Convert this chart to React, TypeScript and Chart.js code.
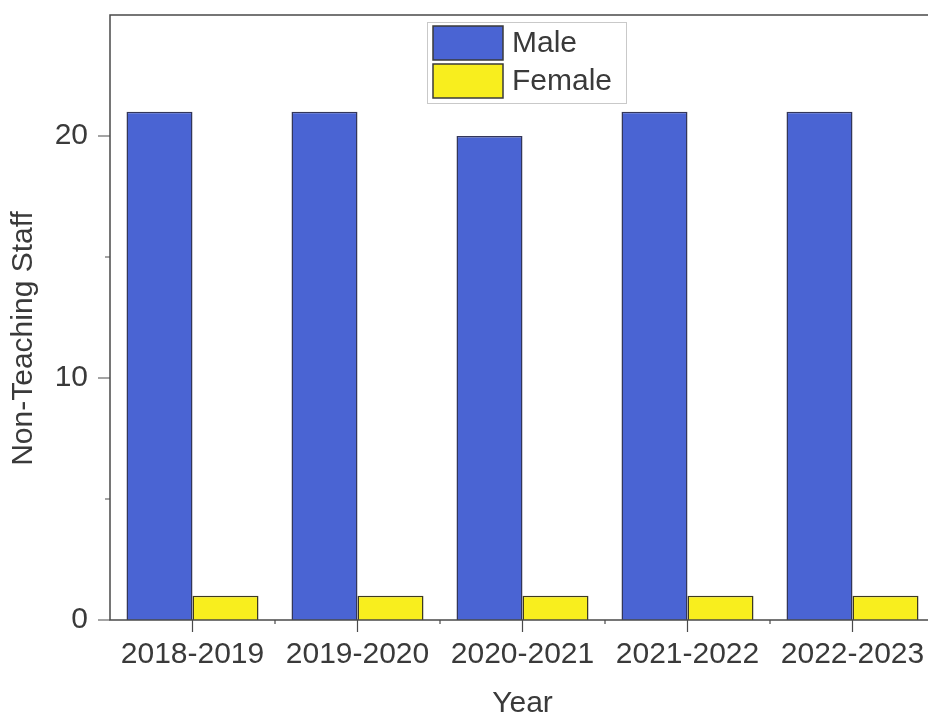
import React, { useEffect, useRef } from "react";
import { Chart, registerables } from "chart.js";

Chart.register(...registerables);

const categories = ["2018-2019", "2019-2020", "2020-2021", "2021-2022", "2022-2023"];
const maleValues = [21, 21, 20, 21, 21];
const femaleValues = [1, 1, 1, 1, 1];
const majorYTicks = [0, 10, 20];
const minorYTicks = [5, 15];
const seriesLabels = ["Male", "Female"];
const yTitle = "Non-Teaching Staff";
const xTitle = "Year";

const FONT = "'Liberation Sans', Arial, Helvetica, sans-serif";
const TEXT = "#3a3a3a";
const AXIS = "#4a4a4a";
const BLUE = "#4A64D3";
const YELLOW = "#F8EE1E";

const framePlugin = {
  id: "frame",
  afterDraw(chart: any) {
    const { ctx, chartArea } = chart;
    const { left, right, top, bottom } = chartArea;
    const y = chart.scales.y;
    const x = chart.scales.x;
    ctx.save();
    ctx.strokeStyle = AXIS;
    ctx.lineWidth = 1.5;
    ctx.beginPath();
    ctx.moveTo(right, top);
    ctx.lineTo(left, top);
    ctx.lineTo(left, bottom);
    ctx.lineTo(right, bottom);
    ctx.stroke();
    // y ticks
    ctx.lineWidth = 1.2;
    ctx.beginPath();
    majorYTicks.forEach((v) => {
      const p = y.getPixelForValue(v);
      ctx.moveTo(left - 12, p);
      ctx.lineTo(left, p);
    });
    minorYTicks.forEach((v) => {
      const p = y.getPixelForValue(v);
      ctx.moveTo(left - 5, p);
      ctx.lineTo(left, p);
    });
    // x ticks
    categories.forEach((_, i) => {
      const p = x.getPixelForValue(i);
      ctx.moveTo(p, bottom);
      ctx.lineTo(p, bottom + 12);
      const m = x.getPixelForValue(i + 0.5);
      ctx.moveTo(m, bottom);
      ctx.lineTo(m, bottom + 4);
    });
    ctx.stroke();

    // y title
    ctx.fillStyle = TEXT;
    ctx.font = `30px ${FONT}`;
    ctx.textAlign = "center";
    ctx.textBaseline = "middle";
    ctx.translate(left - 86, (top + bottom) / 2 + 21);
    ctx.rotate(-Math.PI / 2);
    ctx.fillText(yTitle, 0, 0);
    ctx.restore();

    // legend
    ctx.save();
    const lx = left + 317;
    const ly = top + 7;
    ctx.strokeStyle = "#c9c9c9";
    ctx.lineWidth = 1;
    ctx.strokeRect(lx + 0.5, ly + 0.5, 199, 81);
    chart.data.datasets.forEach((ds: any, i: number) => {
      const sy = ly + 4 + i * 38;
      ctx.fillStyle = ds.backgroundColor;
      ctx.fillRect(lx + 6, sy, 70, 34);
      ctx.strokeStyle = "#3a3a3a";
      ctx.lineWidth = 1.5;
      ctx.strokeRect(lx + 6, sy, 70, 34);
      ctx.fillStyle = TEXT;
      ctx.font = `30px ${FONT}`;
      ctx.textAlign = "left";
      ctx.textBaseline = "middle";
      ctx.fillText(ds.label, lx + 85, sy + 18);
    });
    ctx.restore();
  },
};

export default function App() {
  const ref = useRef<HTMLCanvasElement>(null);
  useEffect(() => {
    if (!ref.current) return;
    const chart = new Chart(ref.current, {
      type: "bar",
      data: {
        labels: categories,
        datasets: [
          {
            label: seriesLabels[0],
            data: maleValues,
            backgroundColor: BLUE,
            borderColor: "#33365a",
            borderWidth: 1.5,
            categoryPercentage: 0.8,
            barPercentage: 1.0,
          },
          {
            label: seriesLabels[1],
            data: femaleValues,
            backgroundColor: YELLOW,
            borderColor: "#3d3a20",
            borderWidth: 1.5,
            categoryPercentage: 0.8,
            barPercentage: 1.0,
          },
        ],
      },
      options: {
        animation: false,
        responsive: false,
        devicePixelRatio: 1,
        layout: { padding: { left: 0, right: 25, top: 15, bottom: 0 } },
        plugins: { legend: { display: false }, tooltip: { enabled: false } },
        scales: {
          x: {
            type: "category",
            offset: true,
            grid: { display: false, drawTicks: false },
            border: { display: false },
            ticks: {
              color: TEXT,
              font: { family: FONT, size: 30 },
              padding: 17,
              maxRotation: 0,
              autoSkip: false,
            },
            title: {
              display: true,
              text: xTitle,
              color: TEXT,
              font: { family: FONT, size: 30, lineHeight: 1 },
              padding: { top: 0, bottom: 0 },
            },
            afterFit: (s: any) => {
              s.height = 99;
              s.paddingLeft = 0;
              s.paddingRight = 0;
              s.paddingTop = 0;
              s.paddingBottom = 0;
            },
          },
          y: {
            min: 0,
            max: 25,
            grid: { display: false, drawTicks: false },
            border: { display: false },
            ticks: {
              color: TEXT,
              font: { family: FONT, size: 30 },
              padding: 22,
            },
            afterBuildTicks: (s: any) => {
              s.ticks = majorYTicks.map((v) => ({ value: v }));
            },
            afterFit: (s: any) => {
              s.width = 110;
              s.paddingLeft = 0;
              s.paddingRight = 0;
              s.paddingTop = 0;
              s.paddingBottom = 0;
            },
          },
        },
      },
      plugins: [framePlugin],
    });
    return () => chart.destroy();
  }, []);
  return (
    <div
      style={{
        position: "fixed",
        left: 0,
        top: 0,
        width: 928,
        height: 719,
        overflow: "hidden",
        background: "#fff",
      }}
    >
      <canvas ref={ref} width={960} height={719} style={{ display: "block" }} />
    </div>
  );
}
